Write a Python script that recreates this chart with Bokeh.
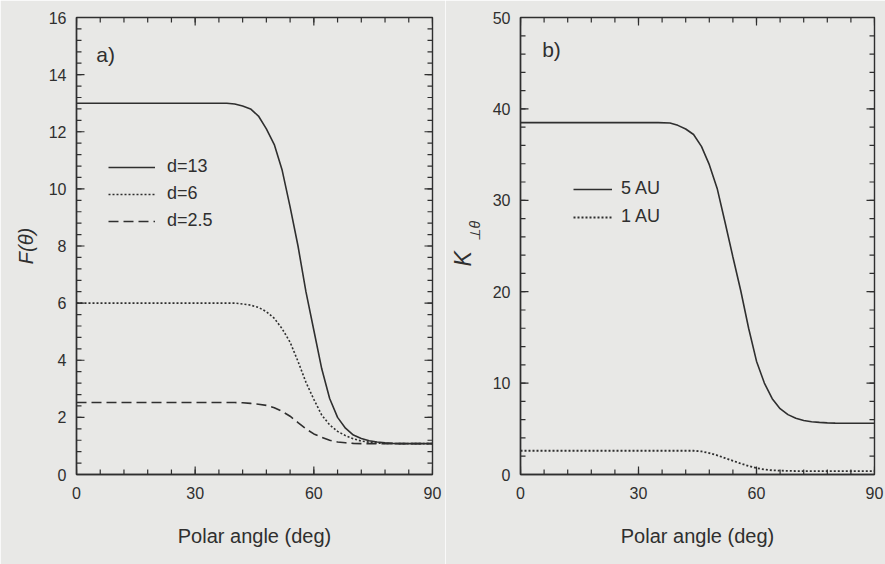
from bokeh.plotting import figure
from bokeh.models import Range1d, Legend, LegendItem, Label, FixedTicker, Title
from bokeh.layouts import row
from bokeh.embed import file_html
from bokeh.resources import INLINE

# ---------------- data ----------------
angle = [0, 5, 10, 15, 20, 25, 30, 35, 38, 40, 42, 44, 46, 48, 50, 52, 54, 56, 58,
         60, 62, 64, 66, 68, 70, 72, 74, 76, 78, 80, 83, 86, 90]

f_d13 = [13.0, 13.0, 13.0, 13.0, 13.0, 13.0, 13.0, 13.0, 13.0, 12.97, 12.9, 12.8, 12.55,
         12.1, 11.55, 10.65, 9.37, 8.0, 6.4, 5.05, 3.7, 2.66, 2.0, 1.62, 1.38, 1.26,
         1.18, 1.14, 1.11, 1.09, 1.08, 1.08, 1.08]
f_d6 = [6.0, 6.0, 6.0, 6.0, 6.0, 6.0, 6.0, 6.0, 6.0, 6.0, 5.97, 5.93, 5.85, 5.7, 5.47,
        5.1, 4.63, 3.96, 3.23, 2.63, 2.08, 1.74, 1.51, 1.36, 1.25, 1.17, 1.13, 1.1,
        1.09, 1.08, 1.08, 1.08, 1.08]
f_d25 = [2.52, 2.52, 2.52, 2.52, 2.52, 2.52, 2.52, 2.52, 2.52, 2.52, 2.51, 2.49, 2.46,
         2.42, 2.34, 2.21, 2.04, 1.82, 1.6, 1.42, 1.3, 1.2, 1.14, 1.11, 1.09, 1.08,
         1.08, 1.08, 1.08, 1.08, 1.08, 1.08, 1.08]

k_5au = [38.5, 38.5, 38.5, 38.5, 38.5, 38.5, 38.5, 38.5, 38.45, 38.2, 37.8, 37.2, 35.9,
         33.9, 31.3, 27.6, 23.8, 20.1, 16.0, 12.4, 10.0, 8.3, 7.2, 6.55, 6.15, 5.9,
         5.77, 5.7, 5.65, 5.62, 5.6, 5.6, 5.6]
k_1au = [2.6, 2.6, 2.6, 2.6, 2.6, 2.6, 2.6, 2.6, 2.6, 2.6, 2.6, 2.6, 2.52, 2.35, 2.1,
         1.8, 1.5, 1.2, 0.93, 0.7, 0.55, 0.46, 0.42, 0.4, 0.38, 0.38, 0.38, 0.38,
         0.38, 0.38, 0.38, 0.38, 0.38]

x_major = [0, 30, 60, 90]
x_minor = list(range(0, 91, 6))
ya_major = [0, 2, 4, 6, 8, 10, 12, 14, 16]
ya_minor = [round(i * 0.4, 1) for i in range(0, 41)]
yb_major = [0, 10, 20, 30, 40, 50]
yb_minor = list(range(0, 51, 2))

BG = "#e8e8e6"
INK = "#2f2f2f"
FONT = "Liberation Sans"
MAJ_PX, MIN_PX = 8, 5


def make_fig(width, height, bl, br, bt, bb, ymax, ymaj, ymin):
    p = figure(width=width, height=height, output_backend="svg", toolbar_location=None,
               x_range=Range1d(0, 90), y_range=Range1d(0, ymax),
               min_border_left=bl, min_border_right=br,
               min_border_top=bt, min_border_bottom=bb)
    p.background_fill_color = BG
    p.border_fill_color = BG
    p.outline_line_color = INK
    p.outline_line_width = 1.4
    p.grid.visible = False
    p.xaxis.ticker = FixedTicker(ticks=x_major, minor_ticks=[])
    p.yaxis.ticker = FixedTicker(ticks=ymaj, minor_ticks=[])
    for ax in (p.xaxis[0], p.yaxis[0]):
        ax.major_tick_in = 0
        ax.major_tick_out = 0
        ax.minor_tick_in = 0
        ax.minor_tick_out = 0
        ax.axis_line_color = INK
        ax.axis_line_width = 1.4
        ax.major_label_text_font = FONT
        ax.major_label_text_font_size = "16px"
        ax.major_label_text_color = INK
    p.xaxis.major_label_standoff = 12
    p.yaxis.major_label_standoff = 10
    p.xaxis.axis_label = "Polar angle (deg)"
    p.xaxis.axis_label_text_font = FONT
    p.xaxis.axis_label_text_font_size = "20px"
    p.xaxis.axis_label_text_font_style = "normal"
    p.xaxis.axis_label_text_color = INK
    p.xaxis.axis_label_standoff = 23

    # inward ticks on all four sides (lengths converted from pixels to data units)
    fw = width - bl - br
    fh = height - bt - bb
    dx_per_px = 90.0 / fw
    dy_per_px = ymax / fh
    for ticks, n in ((x_major, MAJ_PX), (x_minor, MIN_PX)):
        L = n * dy_per_px
        p.segment(x0=ticks, y0=[0] * len(ticks), x1=ticks, y1=[L] * len(ticks),
                  line_color=INK, line_width=1.2)
        p.segment(x0=ticks, y0=[ymax] * len(ticks), x1=ticks, y1=[ymax - L] * len(ticks),
                  line_color=INK, line_width=1.2)
    for ticks, n in ((ymaj, MAJ_PX), (ymin, MIN_PX)):
        L = n * dx_per_px
        p.segment(x0=[0] * len(ticks), y0=ticks, x1=[L] * len(ticks), y1=ticks,
                  line_color=INK, line_width=1.2)
        p.segment(x0=[90] * len(ticks), y0=ticks, x1=[90 - L] * len(ticks), y1=ticks,
                  line_color=INK, line_width=1.2)
    return p


# ---------------- panel a ----------------
pa = make_fig(445, 564, 76, 13, 14, 90, 16, ya_major, ya_minor)
pa.yaxis[0].axis_label = "F(θ)"
pa.yaxis[0].axis_label_text_font = FONT
pa.yaxis[0].axis_label_text_font_size = "20px"
pa.yaxis[0].axis_label_text_font_style = "italic"
pa.yaxis[0].axis_label_text_color = INK
pa.yaxis[0].axis_label_standoff = 9

r13 = pa.line(angle, f_d13, line_color=INK, line_width=1.6)
r6 = pa.line(angle, f_d6, line_color=INK, line_width=1.6, line_dash="2 2")
r25 = pa.line(angle, f_d25, line_color=INK, line_width=1.6, line_dash="10 5")

leg_a = Legend(items=[LegendItem(label="d=13", renderers=[r13]),
                      LegendItem(label="d=6", renderers=[r6]),
                      LegendItem(label="d=2.5", renderers=[r25])],
               location=(32, 243), border_line_color=None, background_fill_alpha=0,
               glyph_width=47, glyph_height=20, label_height=20, spacing=6,
               padding=0, margin=0, label_standoff=12,
               label_text_font=FONT, label_text_font_size="18px",
               label_text_color=INK)
pa.add_layout(leg_a)
pa.add_layout(Label(x=5, y=14.3, text="a)", text_font=FONT, text_font_size="21px",
                    text_color=INK))

# ---------------- panel b ----------------
pb = make_fig(440, 564, 75, 11, 17, 86, 50, yb_major, yb_minor)

q5 = pb.line(angle, k_5au, line_color=INK, line_width=1.6)
q1 = pb.line(angle, k_1au, line_color=INK, line_width=1.8, line_dash="2 2")

leg_b = Legend(items=[LegendItem(label="5 AU", renderers=[q5]),
                      LegendItem(label="1 AU", renderers=[q1])],
               location=(53, 247), border_line_color=None, background_fill_alpha=0,
               glyph_width=39, glyph_height=20, label_height=20, spacing=7,
               padding=0, margin=0, label_standoff=9,
               label_text_font=FONT, label_text_font_size="18px",
               label_text_color=INK)
pb.add_layout(leg_b)
pb.add_layout(Label(x=5.5, y=45.2, text="b)", text_font=FONT, text_font_size="21px",
                    text_color=INK))

# y-axis title: K with subscript ⊥θ, as two side titles
pb.add_layout(Title(text="⊥θ", align="left", offset=234, standoff=14,
                    text_font=FONT, text_font_size="14px", text_font_style="italic",
                    text_color=INK), "left")
pb.add_layout(Title(text="K", align="left", offset=208, standoff=-36,
                    text_font=FONT, text_font_size="23px", text_font_style="italic",
                    text_color=INK), "left")

layout = row(pa, pb)
open("out.html", "w").write(file_html(layout, INLINE))
